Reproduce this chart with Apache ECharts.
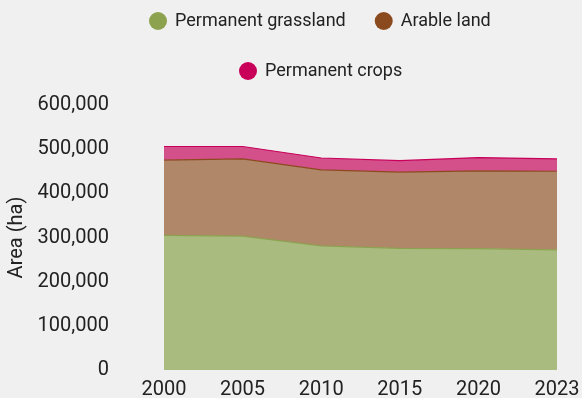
<!DOCTYPE html>
<html>
<head>
<meta charset="utf-8">
<script src="https://cdn.jsdelivr.net/npm/echarts@6/dist/echarts.min.js"></script>
<style>
html,body{margin:0;padding:0;background:#f0f0f0;}
#c{width:582px;height:398px;}
</style>
</head>
<body>
<div id="c"></div>
<script>
const years = ['2000', '2005', '2010', '2015', '2020', '2023'];
const grassland = [305000, 303000, 281000, 275500, 275000, 272000];
const arable = [170000, 175000, 172000, 172500, 176000, 178000];
const crops = [31000, 28000, 27000, 26000, 30000, 28000];
const yTicks = [0, 100000, 200000, 300000, 400000, 500000, 600000];

const font = 'Roboto, "Noto Sans", sans-serif';
const chart = echarts.init(document.getElementById('c'), null, {renderer: 'canvas'});
function mk(name, data, color, fill) {
  return {
    name: name, type: 'line', stack: 'total', data: data,
    symbol: 'none', showSymbol: false,
    lineStyle: {width: 1.2, color: color},
    itemStyle: {color: color},
    areaStyle: {color: fill, opacity: 1},
    emphasis: {disabled: true}
  };
}
const legendText = {fontSize: 18, color: '#222', fontFamily: font, padding: [0, 0, 0, 3]};
chart.setOption({
  backgroundColor: '#f0f0f0',
  animation: false,
  textStyle: {fontFamily: font},
  legend: [{
    data: ['Permanent grassland', 'Arable land'],
    top: 12, left: 149, padding: 0,
    icon: 'circle', itemWidth: 18, itemHeight: 18, itemGap: 29,
    textStyle: legendText
  }, {
    data: ['Permanent crops'],
    top: 62, left: 239, padding: 0,
    icon: 'circle', itemWidth: 18, itemHeight: 18,
    textStyle: legendText
  }],
  grid: {left: 164, right: 25, top: 105, bottom: 28, containLabel: false, outerBoundsMode: 'none'},
  xAxis: {
    type: 'category', data: years, boundaryGap: false,
    axisLine: {show: false}, axisTick: {show: false},
    axisLabel: {fontSize: 20, color: '#222', margin: 10, fontFamily: font}
  },
  yAxis: {
    type: 'value', min: 0, max: 600000, interval: 100000,
    name: 'Area (ha)', nameLocation: 'middle', nameGap: 129, nameRotate: 90,
    nameTextStyle: {fontSize: 20, color: '#222', fontFamily: font},
    axisLine: {show: false}, axisTick: {show: false}, splitLine: {show: false},
    axisLabel: {fontSize: 20, color: '#222', margin: 55, fontFamily: font,
      formatter: v => yTicks.includes(v) ? v.toLocaleString('en-US') : ''}
  },
  series: [
    mk('Permanent grassland', grassland, '#8ca24f', '#aabb80'),
    mk('Arable land', arable, '#8b4a1e', '#b1876a'),
    mk('Permanent crops', crops, '#c8005a', '#d4508a')
  ]
});
</script>
</body>
</html>
